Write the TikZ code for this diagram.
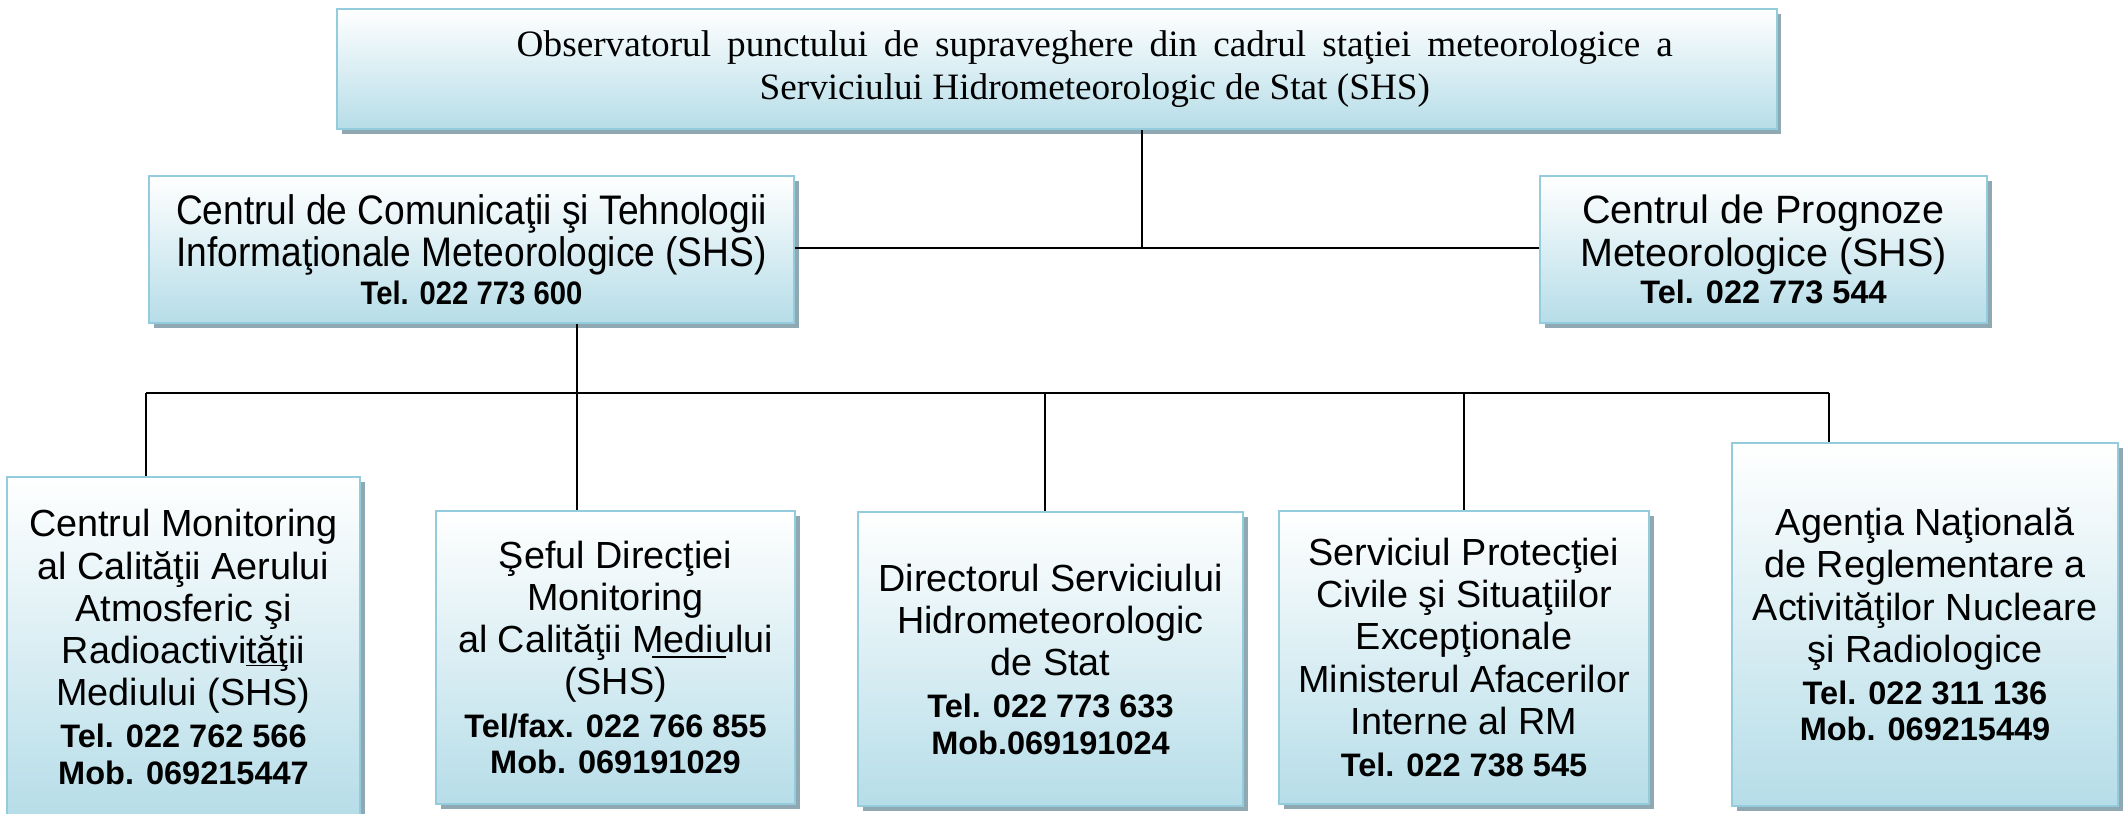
\documentclass[tikz,border=0pt]{standalone}
\usepackage{fontspec}
\setmainfont{Liberation Sans}
\newfontfamily\serifface{Liberation Serif}
\newfontfamily\narrowface[FakeStretch=0.9]{Liberation Sans}
\usetikzlibrary{shadows}

\definecolor{boxline}{HTML}{93CDDD}
\definecolor{boxfill}{HTML}{B6DDE8}
\definecolor{shadowgrey}{HTML}{8FA8B2}

\newcommand{\tel}[2][18.5]{{\fontsize{#1}{#1}\selectfont\bfseries #2}}
\newcommand{\uline}[1]{\setbox0\hbox{#1}\rlap{\rule[-1.6pt]{\wd0}{0.9pt}}\box0}

\begin{document}
\begin{tikzpicture}[x=0.02cm, y=-0.02cm,
  unit/.style={draw=boxline, line width=1.3pt, top color=white, bottom color=boxfill,
    drop shadow={shadow xshift=2.6pt, shadow yshift=-2.6pt, fill=shadowgrey, opacity=1},
    align=center, inner sep=0pt, font=\fontsize{21.5}{24}\selectfont},
  link/.style={line width=1pt, black}]
  \useasboundingbox (0,0) rectangle (2125,814);

  % top level
  \node (obs) [unit, minimum width=28.8cm, minimum height=2.4cm,
    font=\serifface\fontsize{21.2}{24.6}\selectfont] at (1057,69)
    {\hspace*{43pt}\makebox[658pt][s]{Observatorul punctului de supraveghere din cadrul staţiei meteorologice a}\\
     \hspace*{43pt}Serviciului Hidrometeorologic de Stat (SHS)};

  % second level
  \node (ccti) [unit, minimum width=12.9cm, minimum height=2.94cm,
    font=\narrowface\fontsize{23.5}{24}\selectfont] at (471.5,249.5)
    {Centrul de Comunicaţii şi Tehnologii\\ Informaţionale Meteorologice (SHS)\\[-2.7pt] \tel{Tel. 022 773 600}};
  \node (cpm) [unit, minimum width=8.94cm, minimum height=2.94cm,
    font=\fontsize{22.5}{24}\selectfont] at (1763.5,249.5)
    {Centrul de Prognoze\\ Meteorologice (SHS)\\[-2.7pt] \tel{Tel. 022 773 544}};

  % third level
  \node (cmca) [unit, minimum width=7.06cm, minimum height=6.8cm] at (183.5,647)
    {Centrul Monitoring\\ al Calităţii Aerului\\ Atmosferic şi\\ Radioactivi\uline{tăţ}ii\\ Mediului (SHS)\\
     \tel{Tel. 022 762 566}\\[-3.2pt] \tel{Mob. 069215447}};
  \node (sdm) [unit, minimum width=7.18cm, minimum height=5.86cm] at (615.5,657.5)
    {Şeful Direcţiei\\ Monitoring\\ al Calităţii Mediului\\ (SHS)\\
     \tel{Tel/fax. 022 766 855}\\[-3.2pt] \tel{Mob. 069191029}};
  \node (dir) [unit, minimum width=7.7cm, minimum height=5.88cm] at (1050.5,659)
    {Directorul Serviciului\\ Hidrometeorologic\\ de Stat\\
     \tel{Tel. 022 773 633}\\[-3.2pt] \tel{Mob.069191024}};
  \node (spc) [unit, minimum width=7.4cm, minimum height=5.86cm] at (1464,657.5)
    {Serviciul Protecţiei\\ Civile şi Situaţiilor\\ Excepţionale\\ Ministerul Afacerilor\\ Interne al RM\\
     \tel{Tel. 022 738 545}};
  \node (anr) [unit, minimum width=7.72cm, minimum height=7.26cm] at (1925,624.5)
    {Agenţia Naţională\\ de Reglementare a\\ Activităţilor Nucleare\\ şi Radiologice\\
     \tel{Tel. 022 311 136}\\[-3.2pt] \tel{Mob. 069215449}};

  % connectors
  \coordinate (hub) at (1142,248);
  \coordinate (busL) at (146,393);
  \coordinate (busR) at (1829,393);
  \draw[link] (obs.south -| hub) -- (hub);
  \draw[link] (ccti.east |- hub) -- (cpm.west |- hub);
  \draw[link] (ccti.south -| 577,0) -- (sdm.north -| 577,0);
  \draw[link] (busL) -- (busR);
  \foreach \n/\x in {cmca/146, dir/1045, spc/1464, anr/1829}
    \draw[link] (\x,393) -- (\n.north -| \x,393);

  \draw[line width=0.8pt] (652,657) -- (726,657);
\end{tikzpicture}
\end{document}
